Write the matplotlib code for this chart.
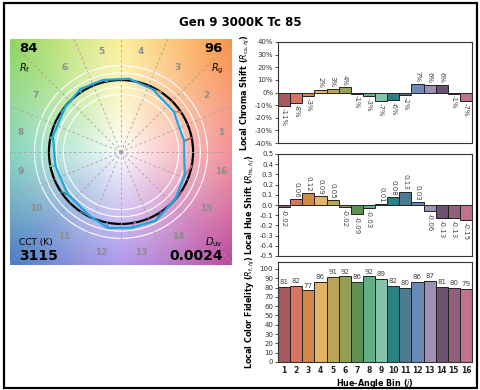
import numpy as np
import matplotlib
matplotlib.use("Agg")
import matplotlib.pyplot as plt
from matplotlib.patches import Rectangle, Circle

# data
bins = list(range(1, 17))
chroma_shift = [-11, -8, -3, 2, 3, 4, -1, -3, -7, -6, -2, 7, 6, 6, -1, -7]  # percent
hue_shift = [-0.02, 0.06, 0.12, 0.09, 0.05, -0.02, -0.09, -0.03,
             0.01, 0.08, 0.13, 0.03, -0.06, -0.13, -0.13, -0.15]
fidelity = [81, 82, 77, 86, 91, 92, 86, 92, 89, 82, 80, 86, 87, 81, 80, 79]
title = "Gen 9 3000K Tc 85"
rf, rg, cct, duv = "84", "96", "3115", "0.0024"

bin_colors = ["#a8595e", "#d8735f", "#d48846", "#e2b465", "#b9a55a", "#93a055",
              "#5f8f55", "#62b088", "#86c3ab", "#2b817f", "#4d7a8f", "#6a88b8",
              "#a090b8", "#6e5072", "#935f7c", "#c0728a"]

fig = plt.figure(figsize=(4.8, 3.9), dpi=100)

# outer frame
fig.patches.append(Rectangle((4 / 480, 2 / 390), 473 / 480, 385 / 390,
                             transform=fig.transFigure, fill=False,
                             edgecolor="black", linewidth=1.6))
fig.text(0.5, 1 - 22 / 390, title, ha="center", va="center",
         fontsize=8.5, fontweight="bold")

# ---- colour vector graphic ----
ax = fig.add_axes([10 / 480, 1 - 265 / 390, 222 / 480, 226 / 390])
xl, yl = 1.54, 1.57
# background hue wheel (decoration only)
anc_ang = np.array([0, 45, 90, 135, 180, 225, 270, 315, 360])
anc_col = np.array([(240, 110, 115), (250, 150, 75), (250, 235, 120),
                    (145, 215, 95), (95, 200, 170), (75, 125, 195),
                    (150, 120, 230), (190, 75, 160), (240, 110, 115)]) / 255
gx, gy = np.meshgrid(np.linspace(-xl, xl, 300), np.linspace(-yl, yl, 300))
ang = np.degrees(np.arctan2(gy, gx)) % 360
rad = np.hypot(gx, gy)
s = np.clip(rad / 2.15, 0, 1) ** 0.85
img = np.zeros(gx.shape + (3,))
for k in range(3):
    c = np.interp(ang, anc_ang, anc_col[:, k])
    img[..., k] = 1 - (1 - c) * s
ax.imshow(img, extent=[-xl, xl, -yl, yl], origin="lower", aspect="auto")

for k in range(16):
    a = np.radians(k * 22.5)
    ax.plot([0, 3 * np.cos(a)], [0, 3 * np.sin(a)], color="#a0a0a0",
            lw=0.6, ls=(0, (3, 3)))
for r in [0.8, 0.9, 1.1, 1.2]:
    ax.add_patch(Circle((0, 0), r, fill=False, edgecolor="white", lw=0.8))
ax.add_patch(Circle((0, 0), 1.0, fill=False, edgecolor="black", lw=1.6))

theta = np.radians(11.25 + 22.5 * np.arange(16))
rc = 1 + np.array(chroma_shift) / 100
hs = np.array(hue_shift)
tx = rc * np.cos(theta) - hs * np.sin(theta)
ty = rc * np.sin(theta) + hs * np.cos(theta)
for j in range(16):
    ax.plot([np.cos(theta[j]), tx[j]], [np.sin(theta[j]), ty[j]],
            color=bin_colors[j], lw=1.2)
ax.plot(np.append(tx, tx[0]), np.append(ty, ty[0]), color="#1aa7e3", lw=1.6)

for j in range(16):
    ax.text(1.42 * np.cos(theta[j]), 1.42 * np.sin(theta[j]), str(bins[j]),
            ha="center", va="center", fontsize=6.5, color="#8c8c8c",
            fontweight="bold")

ax.text(0.04, 0.985, rf, transform=ax.transAxes, fontsize=9.5,
        fontweight="bold", va="top", ha="left")
ax.text(0.04, 0.87, "$R_\\mathrm{f}$", transform=ax.transAxes, fontsize=7,
        va="center", ha="left")
ax.text(0.96, 0.985, rg, transform=ax.transAxes, fontsize=9.5,
        fontweight="bold", va="top", ha="right")
ax.text(0.96, 0.87, "$R_\\mathrm{g}$", transform=ax.transAxes, fontsize=7,
        va="center", ha="right")
ax.text(0.04, 0.10, "CCT (K)", transform=ax.transAxes, fontsize=6.5,
        va="center", ha="left")
ax.text(0.04, 0.04, cct, transform=ax.transAxes, fontsize=10,
        fontweight="bold", va="center", ha="left")
ax.text(0.96, 0.10, "$D_\\mathrm{uv}$", transform=ax.transAxes, fontsize=7,
        va="center", ha="right")
ax.text(0.96, 0.04, duv, transform=ax.transAxes, fontsize=10,
        fontweight="bold", va="center", ha="right")
ax.set_xlim(-xl, xl)
ax.set_ylim(-yl, yl)
ax.set_xticks([])
ax.set_yticks([])
for sp in ax.spines.values():
    sp.set_visible(False)

# ---- bar charts ----
left, width = 278 / 480, 194 / 480
ax_c = fig.add_axes([left, 1 - 143 / 390, width, 101 / 390])
ax_h = fig.add_axes([left, 1 - 256 / 390, width, 102 / 390])
ax_f = fig.add_axes([left, 1 - 362 / 390, width, 100 / 390])

tick_kw = dict(labelsize=5, colors="#333333", length=2, width=0.6, pad=1.5)
lab_kw = dict(fontsize=5.8, fontweight="bold")

ax_c.bar(bins, chroma_shift, width=1, color=bin_colors, edgecolor="#222222",
         linewidth=0.7)
for x, v in zip(bins, chroma_shift):
    off = 1.2 if v >= 0 else -1.2
    ax_c.text(x, v + off, f"{v}%", rotation=270, ha="center",
              va="bottom" if v >= 0 else "top", fontsize=5, color="#444444")
ax_c.set_ylim(-40, 40)
ax_c.set_yticks(range(-40, 41, 10))
ax_c.set_yticklabels([f"{t}%" for t in range(-40, 41, 10)])
ax_c.set_ylabel("Local Chroma Shift ($R_{\\mathrm{cs},hj}$)", labelpad=2, **lab_kw)

ax_h.bar(bins, hue_shift, width=1, color=bin_colors, edgecolor="#222222",
         linewidth=0.7)
for x, v in zip(bins, hue_shift):
    off = 0.015 if v >= 0 else -0.015
    ax_h.text(x, v + off, f"{v:.2f}", rotation=270, ha="center",
              va="bottom" if v >= 0 else "top", fontsize=5, color="#444444")
ax_h.set_ylim(-0.5, 0.5)
ax_h.set_yticks(np.arange(-5, 6) / 10)
ax_h.set_yticklabels([f"{t / 10:.1f}" for t in range(-5, 6)])
ax_h.set_ylabel("Local Hue Shift ($R_{\\mathrm{hs},hj}$)", labelpad=2, **lab_kw)

ax_f.bar(bins, fidelity, width=1, color=bin_colors, edgecolor="#222222",
         linewidth=0.7)
for x, v in zip(bins, fidelity):
    ax_f.text(x, v + 2, str(v), ha="center", va="bottom", fontsize=5,
              color="#444444")
ax_f.set_ylim(0, 107.5)
ax_f.set_yticks(range(0, 101, 10))
ax_f.set_xticks(bins)
ax_f.set_ylabel("Local Color Fidelity ($R_{\\mathrm{f},hj}$)", labelpad=2, **lab_kw)
ax_f.set_xlabel("Hue-Angle Bin ($j$)", labelpad=1, **lab_kw)

for a in (ax_c, ax_h, ax_f):
    a.set_xlim(0.5, 16.5)
    a.tick_params(axis="y", **tick_kw)
    for sp in a.spines.values():
        sp.set_linewidth(0.8)
        sp.set_color("#333333")
for a in (ax_c, ax_h):
    a.set_xticks([])
ax_f.tick_params(axis="x", labelsize=5.5, length=0, pad=3, colors="#222222")
for t in ax_f.get_xticklabels():
    t.set_fontweight("bold")

fig.savefig("out.png", dpi=100)
